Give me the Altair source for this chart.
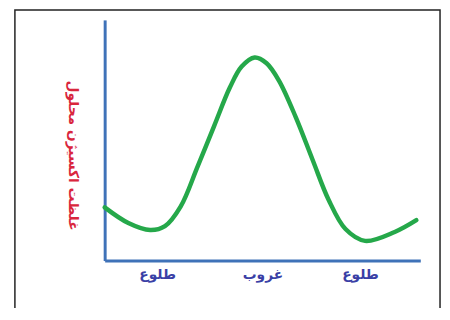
import altair as alt
import pandas as pd

# curve (x: time axis 0..100, y: relative concentration 0..100)
curve_x = [0, 7.5, 14.4, 19.1, 24.1, 29.4, 34.7, 39.7, 43.4, 47.5, 51.3, 55.3, 60.6, 65.9, 70.9, 76.3, 82.5, 91.9, 98.75]
curve_y = [22.1, 15.6, 12.7, 14.3, 22.5, 38.9, 56.0, 72.0, 80.6, 84.4, 82.0, 74.6, 59.4, 41.8, 25.4, 13.1, 8.2, 11.9, 16.8]

tick_pos = [16.6, 50, 80.9]
tick_labels = ["طلوع", "غروب", "طلوع"]

y_title = "غلظت اکسیژن محلول"

df = pd.DataFrame({"x": curve_x, "y": curve_y})

label_expr = " : ".join(
    [f"abs(datum.value - {p}) < 1 ? '{l}'" for p, l in zip(tick_pos, tick_labels)]
) + " : ''"

FONT = "DejaVu Sans"
BLUE = "#3f72b8"

frame = alt.Chart(pd.DataFrame({"a": [0]})).mark_rect(
    fill=None, stroke="#222222", strokeWidth=1.5
).encode(
    x=alt.value(-91), x2=alt.value(340), y=alt.value(-10), y2=alt.value(400)
)

line = alt.Chart(df).mark_line(
    color="#25a84a", strokeWidth=4.5, interpolate="catmull-rom", strokeCap="round"
).encode(
    x=alt.X("x:Q", scale=alt.Scale(domain=[0, 100], nice=False, zero=False),
            axis=alt.Axis(values=tick_pos, labelExpr=label_expr, ticks=False, grid=False,
                          domainColor=BLUE, domainWidth=3, labelColor="#3a3fa6",
                          labelFont=FONT, labelFontSize=14, labelFontWeight="bold",
                          labelPadding=14, labelBaseline="middle", title=None)),
    y=alt.Y("y:Q", scale=alt.Scale(domain=[0, 100], nice=False, zero=False),
            axis=alt.Axis(labels=False, ticks=False, grid=False, domainColor=BLUE,
                          domainWidth=3, title=y_title, titleAngle=90, titleColor="#d9263d",
                          titleFont=FONT, titleFontSize=14, titleFontWeight="bold",
                          titleX=-33, titleY=137, titleAlign="center", titleBaseline="middle")),
)

chart = alt.layer(frame, line).properties(
    width=320, height=244,
    autosize=alt.AutoSizeParams(type="none"),
    padding={"left": 98, "top": 10, "right": 22, "bottom": 46},
    background="white",
).configure_view(stroke=None)

chart.save("out.html", embed_options={"renderer": "svg", "actions": False})
